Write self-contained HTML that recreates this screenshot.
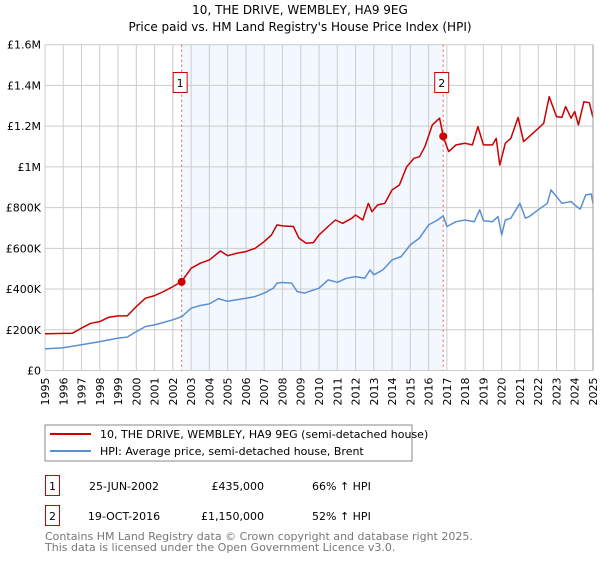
<!DOCTYPE html>
<html><head><meta charset="utf-8"><style>
body{margin:0;background:#fff;font-family:"DejaVu Sans","Liberation Sans",sans-serif;}
svg text{font-family:"DejaVu Sans","Liberation Sans",sans-serif;}
</style></head><body>
<svg id="c" width="600" height="560" xmlns="http://www.w3.org/2000/svg">
<text x="300" y="14" text-anchor="middle" font-size="12">10, THE DRIVE, WEMBLEY, HA9 9EG</text>
<text x="300" y="31" text-anchor="middle" font-size="12">Price paid vs. HM Land Registry's House Price Index (HPI)</text>
<g id="plot"></g>
<g>
<rect x="45" y="425" width="367" height="36" fill="#fff" stroke="#888"/>
<line x1="50" y1="434" x2="91" y2="434" stroke="#cc0000" stroke-width="2"/>
<text x="100" y="438" font-size="11">10, THE DRIVE, WEMBLEY, HA9 9EG (semi-detached house)</text>
<line x1="50" y1="451" x2="91" y2="451" stroke="#5b8fd4" stroke-width="2"/>
<text x="100" y="455" font-size="11">HPI: Average price, semi-detached house, Brent</text>
</g>
<g font-size="11">
<rect x="45.5" y="475.5" width="14" height="20" fill="none" stroke="#cc0000"/>
<text x="52.5" y="490" text-anchor="middle">1</text>
<text x="124" y="490" text-anchor="middle">25-JUN-2002</text>
<text x="264" y="490" text-anchor="end">£435,000</text>
<text x="312" y="490">66% ↑ HPI</text>
<rect x="45.5" y="505.5" width="14" height="20" fill="none" stroke="#cc0000"/>
<text x="52.5" y="520" text-anchor="middle">2</text>
<text x="124" y="520" text-anchor="middle">19-OCT-2016</text>
<text x="264" y="520" text-anchor="end">£1,150,000</text>
<text x="312" y="520">52% ↑ HPI</text>
</g>
<text x="45" y="540" font-size="11" fill="#777">Contains HM Land Registry data © Crown copyright and database right 2025.</text>
<text x="45" y="551" font-size="11" fill="#777">This data is licensed under the Open Government Licence v3.0.</text>
</svg>
<script>
const hpiYears=[1995,1996,1997,1998,1999,1999.5,2000,2000.5,2001,2001.5,2002,2002.5,2003,2003.5,2004,2004.5,2005,2005.5,2006,2006.5,2007,2007.5,2007.7,2008,2008.5,2008.8,2009.2,2010,2010.5,2011,2011.5,2012,2012.5,2012.8,2013,2013.5,2014,2014.5,2015,2015.5,2016,2016.5,2016.8,2017,2017.5,2018,2018.5,2018.8,2019,2019.5,2019.8,2020,2020.2,2020.5,2021,2021.3,2021.5,2022,2022.5,2022.7,2023,2023.3,2023.8,2024,2024.3,2024.6,2024.9,2025];
const hpiValues=[106,112,126,142,159,164,191,216,224,236,249,265,306,319,327,353,340,347,355,363,380,404,429,432,429,388,380,404,445,433,453,461,453,494,470,494,543,560,617,650,715,739,759,707,731,739,731,789,736,731,756,666,739,748,821,748,756,789,821,887,854,821,830,813,792,862,867,821];
const propYears=[1995,1996.5,1997,1997.5,1998,1998.5,1999,1999.5,2000,2000.5,2001,2001.5,2002,2002.48,2003,2003.5,2004,2004.6,2005,2005.5,2006,2006.5,2007,2007.4,2007.7,2008,2008.6,2008.9,2009.3,2009.7,2010,2010.5,2010.9,2011.3,2011.8,2012,2012.4,2012.7,2012.9,2013.2,2013.6,2014,2014.4,2014.8,2015.2,2015.5,2015.8,2016.2,2016.6,2016.75,2016.8,2017.1,2017.5,2018,2018.4,2018.7,2019,2019.5,2019.7,2019.9,2020.2,2020.5,2020.9,2021.2,2021.5,2022,2022.3,2022.6,2023,2023.3,2023.5,2023.8,2024,2024.2,2024.5,2024.8,2025];
const propValues=[180,183,208,232,240,262,268,268,314,355,368,388,412,437,502,527,543,587,564,576,584,600,633,666,715,710,707,650,625,628,666,707,739,723,748,764,739,821,780,813,821,887,911,1001,1042,1050,1099,1206,1239,1173,1148,1075,1108,1116,1108,1198,1108,1108,1140,1009,1116,1140,1243,1124,1148,1189,1214,1345,1247,1243,1296,1239,1272,1206,1320,1315,1243];
const saleYears=[2002.48,2016.8];
const salePrices=[435,1150];
const saleLabels=["1","2"];
const yTicks=[0,200,400,600,800,1000,1200,1400,1600];
const yTickLabels=["£0","£200K","£400K","£600K","£800K","£1M","£1.2M","£1.4M","£1.6M"];
const xTicks=[];for(let y=1995;y<=2025;y++)xTicks.push(y);

const X0=45,X1=593,Y0=370.5,Y1=44.7;
const xs=y=>X0+(y-1995)/30*(X1-X0);
const ys=v=>Y0-v/1600*(Y0-Y1);
const NS="http://www.w3.org/2000/svg";
const g=document.getElementById('plot');
function mk(t,a){const e=document.createElementNS(NS,t);for(const k in a)e.setAttribute(k,a[k]);g.appendChild(e);return e;}
let r=mk('rect',{x:xs(saleYears[0]),y:Y1,width:xs(saleYears[1])-xs(saleYears[0]),height:Y0-Y1,fill:'#eef3fd',opacity:0.7});


xTicks.forEach(y=>{const l=mk('line',{x1:xs(y),x2:xs(y),y1:Y1,y2:Y0,stroke:'#ccc','stroke-width':1});


const t=mk('text',{x:0,y:0,'font-size':11,'text-anchor':'end',transform:`translate(${xs(y)+4},${Y0+7}) rotate(-90)`});
t.textContent=y;

});
yTicks.forEach((v,i)=>{const l=mk('line',{x1:X0,x2:X1,y1:ys(v),y2:ys(v),stroke:'#ccc','stroke-width':1});


const t=mk('text',{x:X0-4,y:ys(v)+4,'font-size':11,'text-anchor':'end'});
t.textContent=yTickLabels[i];

});
saleYears.forEach((y,i)=>{const l=mk('line',{x1:xs(y),x2:xs(y),y1:Y1,y2:Y0,stroke:'#e06060','stroke-dasharray':'2,3','stroke-width':1});

});
function path(xa,va,col,name){const d=xa.map((y,i)=>(i?'L':'M')+xs(y).toFixed(1)+','+ys(va[i]).toFixed(1)).join('');
const p=mk('path',{d:d,fill:'none',stroke:col,'stroke-width':1.5,'stroke-linejoin':'round'});

}
path(hpiYears,hpiValues,'#5b8fd4','hpi-line');
path(propYears,propValues,'#cc0000','property-price-line');
saleYears.forEach((y,i)=>{const c=mk('circle',{cx:xs(y),cy:ys(salePrices[i]),r:4,fill:'#cc0000'});


const b=mk('rect',{x:xs(y)-8.5,y:72.5,width:14,height:20,fill:'#fff',stroke:'#cc0000'});


const t=mk('text',{x:xs(y)-1.5,y:87,'font-size':11,'text-anchor':'middle'});
t.textContent=saleLabels[i];

});
const ax=mk('line',{x1:X1,x2:X1,y1:Y1,y2:Y0,stroke:'#999'});


</script>
</body></html>
